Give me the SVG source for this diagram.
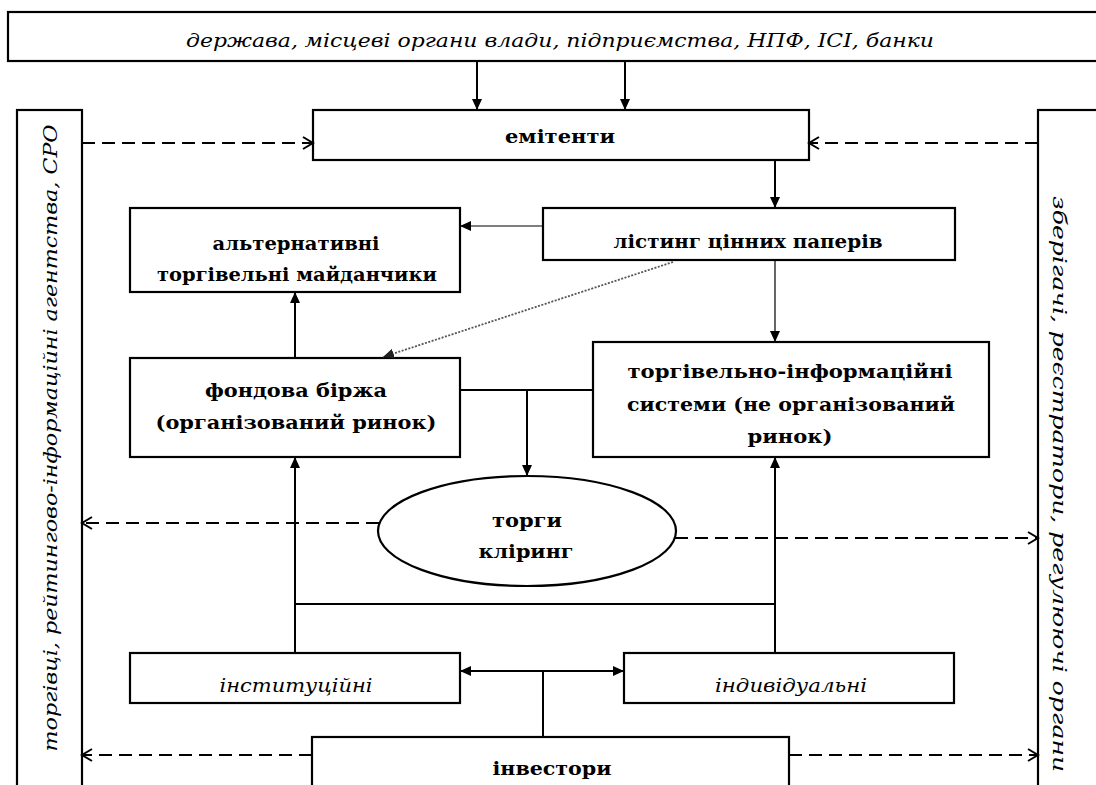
<svg xmlns="http://www.w3.org/2000/svg" width="1096" height="785" viewBox="0 0 1096 785">
<defs>
<style>
.box{fill:#fff;stroke:#000;stroke-width:2.2}
.ln{fill:none;stroke:#000;stroke-width:2}
.thin{fill:none;stroke:#000;stroke-width:1.2}
.dash{fill:none;stroke:#000;stroke-width:2.2;stroke-dasharray:13 7}
.dot{fill:none;stroke:#555;stroke-width:1.8;stroke-dasharray:2 1.5}
.b{font-family:"DejaVu Serif","Liberation Serif",serif;font-weight:bold;font-size:19px;fill:#000;text-anchor:middle}
.i{font-family:"DejaVu Serif","Liberation Serif",serif;font-style:italic;font-size:19px;fill:#000;text-anchor:middle}
</style>
<marker id="ah" markerUnits="userSpaceOnUse" markerWidth="12" markerHeight="10" refX="11" refY="5" orient="auto">
<path d="M0,0 L11,5 L0,10 z" fill="#000"/>
</marker>
<marker id="ahg" markerUnits="userSpaceOnUse" markerWidth="12" markerHeight="10" refX="11" refY="5" orient="auto">
<path d="M0,0 L11,5 L0,10 z" fill="#222"/>
</marker>
<marker id="ah2" markerUnits="userSpaceOnUse" markerWidth="12" markerHeight="10" refX="11" refY="5" orient="auto-start-reverse">
<path d="M0,0 L11,5 L0,10 z" fill="#000"/>
</marker>
<marker id="oa" markerUnits="userSpaceOnUse" markerWidth="14" markerHeight="14" refX="12" refY="7" orient="auto">
<path d="M2,1 L12,7 L2,13" fill="none" stroke="#000" stroke-width="2"/>
</marker>
</defs>

<g id="top-bar">
<rect class="box" x="8" y="12" width="1102" height="49"/>
<text class="i" x="560" y="47" font-size="21" textLength="748" lengthAdjust="spacingAndGlyphs">держава, місцеві органи влади, підприємства, НПФ, ІСІ, банки</text>
</g>

<g id="left-panel">
<rect class="box" x="17" y="110" width="65" height="700"/>
<text class="i" transform="translate(57,438) rotate(-90)" x="0" y="0" font-size="21" textLength="627" lengthAdjust="spacingAndGlyphs">торгівці, рейтингово-інформаційні агентства, СРО</text>
</g>

<g id="right-panel">
<rect class="box" x="1038" y="110" width="80" height="700"/>
<text class="i" transform="translate(1053,484) rotate(90)" x="0" y="0" font-size="21" textLength="576" lengthAdjust="spacingAndGlyphs">зберігачі, реєстратори, регулюючі органи</text>
</g>

<g id="emitents">
<rect class="box" x="313" y="110" width="496" height="50"/>
<text class="b" x="560" y="143" textLength="110" lengthAdjust="spacingAndGlyphs">емітенти</text>
</g>

<g id="listing">
<rect class="box" x="543" y="208" width="412" height="52"/>
<text class="b" x="748" y="248" textLength="269" lengthAdjust="spacingAndGlyphs">лістинг цінних паперів</text>
</g>

<g id="alternative">
<rect class="box" x="130" y="208" width="330" height="84"/>
<text class="b" x="296" y="250" textLength="167" lengthAdjust="spacingAndGlyphs">альтернативні</text>
<text class="b" x="297" y="281" textLength="280" lengthAdjust="spacingAndGlyphs">торгівельні майданчики</text>
</g>

<g id="stock-exchange">
<rect class="box" x="130" y="358" width="330" height="99"/>
<text class="b" x="296" y="397" font-size="20" textLength="182" lengthAdjust="spacingAndGlyphs">фондова біржа</text>
<text class="b" x="296" y="429" font-size="20" textLength="281" lengthAdjust="spacingAndGlyphs">(організований ринок)</text>
</g>

<g id="trading-systems">
<rect class="box" x="593" y="342" width="396" height="115"/>
<text class="b" x="790" y="378" font-size="20" textLength="325" lengthAdjust="spacingAndGlyphs">торгівельно-інформаційні</text>
<text class="b" x="791" y="411" font-size="20" textLength="328" lengthAdjust="spacingAndGlyphs">системи (не організований</text>
<text class="b" x="790" y="443" font-size="20" textLength="85" lengthAdjust="spacingAndGlyphs">ринок)</text>
</g>

<g id="trading-clearing">
<ellipse class="box" cx="527" cy="531" rx="149" ry="55"/>
<text class="b" x="527" y="527" textLength="70" lengthAdjust="spacingAndGlyphs">торги</text>
<text class="b" x="526" y="558" textLength="95" lengthAdjust="spacingAndGlyphs">кліринг</text>
</g>

<g id="institutional">
<rect class="box" x="130" y="653" width="330" height="50"/>
<text class="i" x="296" y="692" textLength="153" lengthAdjust="spacingAndGlyphs">інституційні</text>
</g>

<g id="individual">
<rect class="box" x="624" y="653" width="330" height="50"/>
<text class="i" x="791" y="692" textLength="152" lengthAdjust="spacingAndGlyphs">індивідуальні</text>
</g>

<g id="investors">
<rect class="box" x="312" y="737" width="477" height="70"/>
<text class="b" x="552" y="775" textLength="119" lengthAdjust="spacingAndGlyphs">інвестори</text>
</g>

<g id="connectors">
<line class="ln" x1="477" y1="61" x2="477" y2="110" marker-end="url(#ah)"/>
<line class="ln" x1="625" y1="61" x2="625" y2="110" marker-end="url(#ah)"/>
<line class="ln" x1="775" y1="160" x2="775" y2="208" marker-end="url(#ah)"/>
<line class="thin" x1="543" y1="226" x2="460" y2="226" marker-end="url(#ah)"/>
<line class="thin" x1="775" y1="260" x2="775" y2="342" marker-end="url(#ah)"/>
<line class="dot" x1="673" y1="262" x2="383" y2="357" marker-end="url(#ahg)"/>
<line class="ln" x1="295" y1="358" x2="295" y2="292" marker-end="url(#ah)"/>
<polyline class="ln" points="460,390 593,390"/>
<line class="ln" x1="527" y1="390" x2="527" y2="476" marker-end="url(#ah)"/>
<line class="ln" x1="295" y1="653" x2="295" y2="457" marker-end="url(#ah)"/>
<line class="ln" x1="775" y1="653" x2="775" y2="457" marker-end="url(#ah)"/>
<line class="ln" x1="295" y1="604" x2="775" y2="604"/>
<line class="ln" x1="460" y1="671" x2="624" y2="671" marker-start="url(#ah2)" marker-end="url(#ah2)"/>
<line class="ln" x1="543" y1="671" x2="543" y2="737"/>
<line class="dash" x1="82" y1="143" x2="313" y2="143" marker-end="url(#oa)"/>
<line class="dash" x1="1038" y1="143" x2="809" y2="143" marker-end="url(#oa)"/>
<line class="dash" x1="379" y1="523" x2="82" y2="523" marker-end="url(#oa)"/>
<line class="dash" x1="675" y1="538" x2="1038" y2="538" marker-end="url(#oa)"/>
<line class="dash" x1="312" y1="755" x2="82" y2="755" marker-end="url(#oa)"/>
<line class="dash" x1="789" y1="755" x2="1038" y2="755" marker-end="url(#oa)"/>
</g>
</svg>
